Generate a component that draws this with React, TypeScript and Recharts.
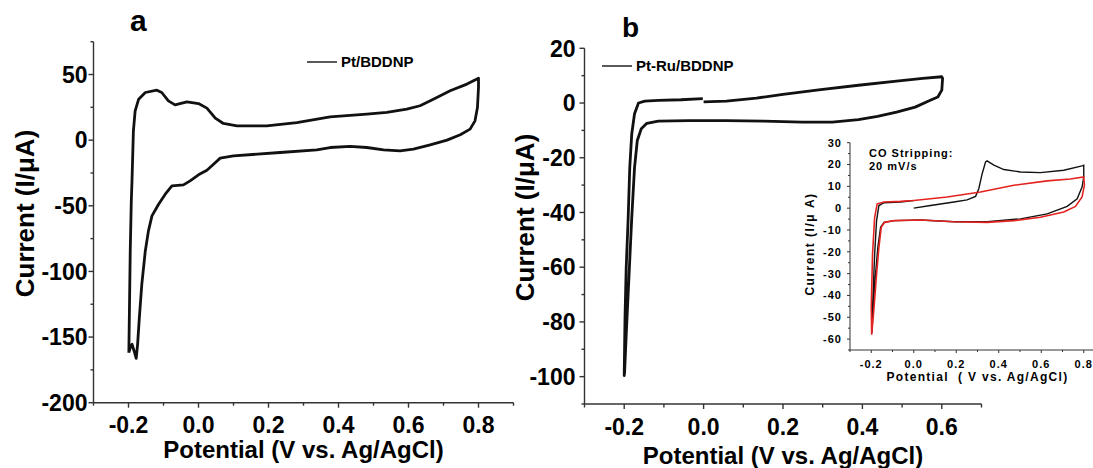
import { LineChart, Line, XAxis, YAxis, Legend } from "recharts"

// panel a: Pt/BDDNP cyclic voltammogram (closed loop)
const potentialA = [
  -0.199, -0.197, -0.195, -0.192, -0.19, -0.186, -0.181, -0.171, -0.152, -0.119, -0.105, -0.086, -0.067, -0.033, 0.0,
  0.024, 0.048, 0.071, 0.11, 0.195, 0.281, 0.376, 0.481, 0.538, 0.595, 0.633, 0.671, 0.719, 0.767, 0.8,
  0.8, 0.797, 0.79, 0.776, 0.748, 0.71, 0.662, 0.614, 0.576, 0.529, 0.481, 0.433, 0.376, 0.338, 0.233, 0.1,
  0.062, 0.043, 0.024, 0.0, -0.024, -0.043, -0.076, -0.095, -0.114, -0.133, -0.143, -0.152, -0.162, -0.169,
  -0.174, -0.178, -0.184, -0.19, -0.195, -0.199,
]
const currentA = [
  -161.9, -122.5, -84.4, -46.3, -31, 7.1, 22.3, 31.2, 36.3, 38.1, 36.3, 29.9, 26.9, 29.2, 27.9,
  24.4, 16.8, 12.7, 10.9, 10.9, 13.4, 17.8, 19.8, 21.1, 23.6, 26.2, 31.2, 37.6, 42.7, 47.2,
  40.1, 24.9, 14.7, 8.4, 4.1, 0, -3.6, -6.9, -8.1, -7.4, -5.6, -4.8, -5.6, -7.4, -9.4, -12.0,
  -13.7, -18.3, -22.9, -26.4, -31.0, -34.1, -34.8, -41.2, -48.8, -57.7, -69.1, -84.4, -109.8, -135.2,
  -155.5, -166.2, -160.6, -155.5, -158.0, -161.9,
]

// panel b: Pt-Ru/BDDNP, scan starts at 0.0 V
const potentialB = [
  0.0, 0.057, 0.133, 0.2, 0.295, 0.39, 0.486, 0.552, 0.6, 0.602, 0.6, 0.59, 0.571, 0.533, 0.486, 0.438,
  0.39, 0.324, 0.248, 0.152, 0.057, -0.038, -0.114, -0.143, -0.157, -0.167, -0.174, -0.181, -0.189, -0.195,
  -0.199, -0.2, -0.198, -0.195, -0.19, -0.186, -0.181, -0.174, -0.164, -0.148, -0.114, -0.057, -0.002,
]
const currentB = [
  0.4, 0.7, 1.8, 3.2, 4.9, 6.5, 8.0, 9.0, 9.6, 9.0, 4.7, 2.2, 1.0, -1.5, -3.3, -4.9,
  -6.1, -7.0, -7.0, -6.6, -6.4, -6.4, -6.6, -7.4, -9.4, -13.7, -23.6, -42.0, -66.5, -84.9,
  -98.4, -99.6, -78.8, -60.4, -42.0, -23.6, -11.3, -3.9, 0, 0.7, 1.0, 1.2, 1.6,
]

// inset: CO stripping, first scan (black) and second scan (red)
const potentialCO1 = [
  0.0, 0.079, 0.189, 0.251, 0.291, 0.306, 0.322, 0.338, 0.345, 0.377, 0.424, 0.502, 0.596, 0.706, 0.792, 0.8,
  0.8, 0.792, 0.769, 0.722, 0.628, 0.502, 0.345, 0.189, 0.032, -0.093, -0.14, -0.156, -0.169, -0.18, -0.191,
  -0.197, -0.194, -0.184, -0.175, -0.164, -0.14, -0.062, 0.0,
]
const currentCO1 = [
  0.0, 1.2, 2.8, 3.8, 5.4, 8.9, 15.8, 21.2, 21.7, 19.7, 17.7, 16.6, 16.3, 17.4, 19.4, 19.7,
  14.3, 9.7, 4.3, 0.8, -2.6, -4.9, -6.2, -6.2, -5.4, -5.7, -6.5, -8.8, -18.0, -30.3, -45.7,
  -57.2, -45.7, -21.1, -5.7, 1.2, 2.5, 2.8, 3.5,
]
const potentialCO2 = [
  0.0, 0.157, 0.314, 0.471, 0.628, 0.737, 0.8, 0.803, 0.792, 0.761, 0.706, 0.596, 0.471, 0.345, 0.189,
  0.032, -0.093, -0.137, -0.153, -0.164, -0.175, -0.187, -0.198, -0.2, -0.194, -0.184, -0.172, -0.14, -0.062, 0.0,
]
const currentCO2 = [
  3.5, 5.1, 7.4, 10.5, 12.5, 13.4, 14.3, 10.5, 5.1, 0.8, -1.8, -4.2, -5.7, -6.5, -6.2,
  -5.4, -5.7, -6.5, -8.8, -18.0, -30.3, -45.7, -58.0, -45.7, -21.1, -4.2, 2.0, 2.8, 3.1, 3.5,
]

// ticks
const xMajorA = [-0.2, 0, 0.2, 0.4, 0.6, 0.8]
const xMinorA = [-0.3, -0.1, 0.1, 0.3, 0.5, 0.7, 0.9]
const yMajorA = [-200, -150, -100, -50, 0, 50]
const yMinorA = [-175, -125, -75, -25, 25, 75]
const xMajorB = [-0.2, 0, 0.2, 0.4, 0.6]
const xMinorB = [-0.3, -0.1, 0.1, 0.3, 0.5, 0.7]
const yMajorB = [-100, -80, -60, -40, -20, 0, 20]
const yMinorB = [-110, -90, -70, -50, -30, -10, 10]
const xMajorIn = [-0.2, 0, 0.2, 0.4, 0.6, 0.8]
const xMinorIn = [-0.3, -0.1, 0.1, 0.3, 0.5, 0.7, 0.9]
const yMajorIn = [-60, -50, -40, -30, -20, -10, 0, 10, 20, 30]
const yMinorIn = [-65, -55, -45, -35, -25, -15, -5, 5, 15, 25]

const zip = (xs: number[], ys: number[]) => xs.map((x, i) => ({ x, y: ys[i] }))
const cvA = zip(potentialA, currentA)
const cvB = zip(potentialB, currentB)
const co1 = zip(potentialCO1, currentCO1)
const co2 = zip(potentialCO2, currentCO2)

const FONT = "'Liberation Sans', Arial, Helvetica, sans-serif"
const AXIS = "#333"
const isIn = (arr: number[], v: number) => arr.some((m) => Math.abs(m - v) < 1e-9)
const fmtX = (v: number) => (Math.abs(v) < 1e-9 ? "0.0" : v.toFixed(1))
const fmtY = (v: number) => String(v)

function XTick(props: any) {
  const { x, y, payload, majors, major, minor, fontSize, dy, sw, ls } = props
  const big = isIn(majors, payload.value)
  return (
    <g>
      <line x1={x} y1={y} x2={x} y2={y + (big ? major : minor)} stroke={AXIS} strokeWidth={sw} />
      {big && (
        <text x={x} y={y + dy} textAnchor="middle" fontSize={fontSize} fontWeight={700} fill="#000" style={{ letterSpacing: ls }}>
          {fmtX(payload.value)}
        </text>
      )}
    </g>
  )
}

function YTick(props: any) {
  const { x, y, payload, majors, major, minor, fontSize, gap, sw, ls } = props
  const big = isIn(majors, payload.value)
  return (
    <g>
      <line x1={x - (big ? major : minor)} y1={y} x2={x} y2={y} stroke={AXIS} strokeWidth={sw} />
      {big && (
        <text x={x - gap} y={y + fontSize * 0.36} textAnchor="end" fontSize={fontSize} fontWeight={700} fill="#000" style={{ letterSpacing: ls }}>
          {fmtY(payload.value)}
        </text>
      )}
    </g>
  )
}

function LegendLine(props: any) {
  const { payload, lineW, fontSize } = props
  const p = payload && payload[0]
  return (
    <div style={{ display: "flex", alignItems: "center", whiteSpace: "nowrap", fontFamily: FONT }}>
      <svg width={lineW} height={4}>
        <line x1={0} y1={2} x2={lineW} y2={2} stroke="#000" strokeWidth={1.3} />
      </svg>
      <span style={{ marginLeft: 4, fontSize, fontWeight: 700, color: "#000" }}>{p ? p.value : ""}</span>
    </div>
  )
}

export default function App() {
  return (
    <div
      style={{
        position: "absolute",
        left: 0,
        top: 0,
        width: 1093,
        height: 468,
        overflow: "hidden",
        background: "#fff",
        fontFamily: FONT,
      }}
    >
      {/* panel a */}
      <div style={{ position: "absolute", left: 0, top: 0 }}>
        <LineChart width={540} height={468} margin={{ top: 41.7, right: 26.5, bottom: 0, left: 0 }}>
          <XAxis
            type="number"
            dataKey="x"
            domain={[-0.3, 0.9]}
            ticks={[...xMajorA, ...xMinorA]}
            interval={0}
            height={65.3}
            tickSize={0}
            tickMargin={0}
            tickLine={false}
            axisLine={{ stroke: AXIS, strokeWidth: 1.4 }}
            allowDataOverflow
            tick={(p: any) => <XTick {...p} majors={xMajorA} major={5} minor={3} fontSize={23} dy={30} sw={1.4} />}
          />
          <YAxis
            type="number"
            domain={[-200, 75]}
            ticks={[...yMajorA, ...yMinorA]}
            interval={0}
            width={93.5}
            tickSize={0}
            tickMargin={0}
            tickLine={false}
            axisLine={{ stroke: AXIS, strokeWidth: 1.4 }}
            allowDataOverflow
            tick={(p: any) => <YTick {...p} majors={yMajorA} major={5} minor={3} fontSize={23} gap={6} sw={1.4} />}
          />
          <Legend
            layout="horizontal"
            verticalAlign="middle"
            wrapperStyle={{ left: 307, top: 53, width: "auto" }}
            content={(p: any) => <LegendLine {...p} lineW={30} fontSize={15} />}
          />
          <Line
            data={cvA}
            dataKey="y"
            name="Pt/BDDNP"
            type="linear"
            stroke="#111"
            strokeWidth={2.8}
            strokeLinejoin="round"
            dot={false}
            isAnimationActive={false}
          />
        </LineChart>
      </div>

      {/* panel b */}
      <div style={{ position: "absolute", left: 480, top: 0 }}>
        <LineChart width={613} height={468} margin={{ top: 48.3, right: 111.5, bottom: 0, left: 0 }}>
          <XAxis
            type="number"
            dataKey="x"
            domain={[-0.3, 0.7]}
            ticks={[...xMajorB, ...xMinorB]}
            interval={0}
            height={64}
            tickSize={0}
            tickMargin={0}
            tickLine={false}
            axisLine={{ stroke: AXIS, strokeWidth: 1.4 }}
            allowDataOverflow
            tick={(p: any) => <XTick {...p} majors={xMajorB} major={5} minor={3.5} fontSize={23} dy={31} sw={1.4} />}
          />
          <YAxis
            type="number"
            domain={[-110, 20]}
            ticks={[...yMajorB, ...yMinorB]}
            interval={0}
            width={104.5}
            tickSize={0}
            tickMargin={0}
            tickLine={false}
            axisLine={{ stroke: AXIS, strokeWidth: 1.4 }}
            allowDataOverflow
            tick={(p: any) => <YTick {...p} majors={yMajorB} major={5} minor={3} fontSize={23} gap={9} sw={1.4} />}
          />
          <Legend
            layout="horizontal"
            verticalAlign="middle"
            wrapperStyle={{ left: 122, top: 57, width: "auto" }}
            content={(p: any) => <LegendLine {...p} lineW={30} fontSize={15} />}
          />
          <Line
            data={cvB}
            dataKey="y"
            name="Pt-Ru/BDDNP"
            type="linear"
            stroke="#111"
            strokeWidth={2.8}
            strokeLinejoin="round"
            dot={false}
            isAnimationActive={false}
          />
        </LineChart>
      </div>

      {/* inset: CO stripping */}
      <div style={{ position: "absolute", left: 780, top: 100 }}>
        <LineChart width={325} height={300} margin={{ top: 42.7, right: 0, bottom: 0, left: 0 }}>
          <XAxis
            type="number"
            dataKey="x"
            domain={[-0.3, 0.9]}
            ticks={[...xMajorIn, ...xMinorIn]}
            interval={0}
            height={50}
            tickSize={0}
            tickMargin={0}
            tickLine={false}
            axisLine={{ stroke: AXIS, strokeWidth: 1 }}
            allowDataOverflow
            tick={(p: any) => <XTick {...p} majors={xMajorIn} major={3} minor={2} fontSize={11} dy={18} sw={1} ls={1} />}
          />
          <YAxis
            type="number"
            domain={[-65, 30]}
            ticks={[...yMajorIn, ...yMinorIn]}
            interval={0}
            width={70}
            tickSize={0}
            tickMargin={0}
            tickLine={false}
            axisLine={{ stroke: AXIS, strokeWidth: 1 }}
            allowDataOverflow
            tick={(p: any) => <YTick {...p} majors={yMajorIn} major={3} minor={2} fontSize={11} gap={8} sw={1} ls={1} />}
          />
          <Line data={co1} dataKey="y" name="1st scan" type="linear" stroke="#111" strokeWidth={1.4} dot={false} isAnimationActive={false} />
          <Line data={co2} dataKey="y" name="2nd scan" type="linear" stroke="#e3231f" strokeWidth={1.6} dot={false} isAnimationActive={false} />
        </LineChart>
      </div>

      {/* panel letters, axis titles, annotations */}
      <svg width={1093} height={468} style={{ position: "absolute", left: 0, top: 0, pointerEvents: "none" }}>
        <g fontFamily={FONT} fontWeight={700} fill="#000">
          <text x={130} y={31} fontSize={30}>a</text>
          <text x={622} y={37} fontSize={28}>b</text>
          <text transform="translate(25,213.5) rotate(-90)" textAnchor="middle" dy="0.35em" fontSize={26}>
            Current (I/μA)
          </text>
          <text transform="translate(525,217.5) rotate(-90)" textAnchor="middle" dy="0.35em" fontSize={26}>
            Current (I/μA)
          </text>
          <text x={303.5} y={458} textAnchor="middle" fontSize={24}>Potential (V vs. Ag/AgCl)</text>
          <text x={783} y={464} textAnchor="middle" fontSize={24}>Potential (V vs. Ag/AgCl)</text>
          <text transform="translate(810,244) rotate(-90)" textAnchor="middle" dy="0.35em" fontSize={12} style={{ letterSpacing: 1.5 }}>
            Current (I/μ A)
          </text>
          <text x={977.5} y={381} textAnchor="middle" fontSize={12} style={{ letterSpacing: 1.3, whiteSpace: "pre" }}>
            {"Potential  ( V vs. Ag/AgCl)"}
          </text>
          <text x={869} y={157} fontSize={11} style={{ letterSpacing: 1 }}>CO Stripping:</text>
          <text x={869} y={170} fontSize={11} style={{ letterSpacing: 1 }}>20 mV/s</text>
        </g>
      </svg>
    </div>
  )
}
